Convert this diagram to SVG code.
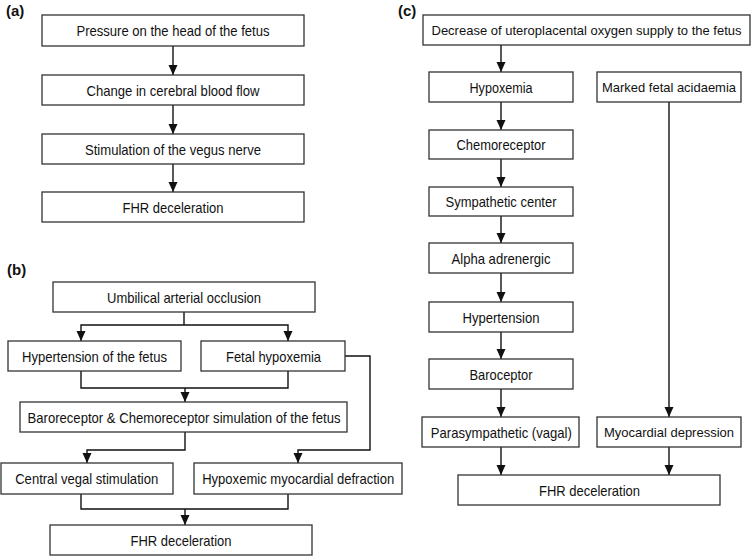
<svg xmlns="http://www.w3.org/2000/svg" width="751" height="556" viewBox="0 0 751 556">
<style>
.box{fill:#fff;stroke:#333;stroke-width:1.3}
.t{font-family:"Liberation Sans",Arial,sans-serif;font-size:15px;fill:#111;text-anchor:middle}
.s{font-size:13.5px}
.xs{font-size:12.8px}
.lbl{font-family:"Liberation Sans",Arial,sans-serif;font-size:15px;font-weight:bold;fill:#111}
.c{fill:none;stroke:#111;stroke-width:1.4}
</style>
<defs>
<marker id="ah" markerUnits="userSpaceOnUse" markerWidth="10" markerHeight="11" refX="10" refY="5" orient="auto">
<path d="M0,0.5 L10,5 L0,9.5 z" fill="#111"/>
</marker>
</defs>
<rect width="751" height="556" fill="#fff"/>
<text class="lbl" x="6" y="16">(a)</text>
<text class="lbl" x="7" y="275">(b)</text>
<text class="lbl" x="398" y="16">(c)</text>

<g id="connectors">
<!-- a -->
<line class="c" x1="173" y1="46" x2="173" y2="75" marker-end="url(#ah)"/>
<line class="c" x1="173" y1="105" x2="173" y2="134" marker-end="url(#ah)"/>
<line class="c" x1="173" y1="164" x2="173" y2="192" marker-end="url(#ah)"/>
<!-- b -->
<polyline class="c" points="184,312 184,325"/>
<polyline class="c" points="184,325 81,325 81,341" marker-end="url(#ah)"/>
<polyline class="c" points="184,325 288,325 288,341" marker-end="url(#ah)"/>
<polyline class="c" points="81,371 81,388 288,388 288,371"/>
<line class="c" x1="185" y1="388" x2="185" y2="402" marker-end="url(#ah)"/>
<polyline class="c" points="185,432 185,450 87,450 87,463" marker-end="url(#ah)"/>
<polyline class="c" points="345,356 370,356 370,450 298,450 298,463" marker-end="url(#ah)"/>
<polyline class="c" points="81,494 81,509 288,509 288,494"/>
<line class="c" x1="185" y1="509" x2="185" y2="525" marker-end="url(#ah)"/>
<!-- c -->
<line class="c" x1="501" y1="45" x2="501" y2="72" marker-end="url(#ah)"/>
<line class="c" x1="501" y1="102" x2="501" y2="130" marker-end="url(#ah)"/>
<line class="c" x1="501" y1="159" x2="501" y2="187" marker-end="url(#ah)"/>
<line class="c" x1="501" y1="216" x2="501" y2="243" marker-end="url(#ah)"/>
<line class="c" x1="501" y1="273" x2="501" y2="302" marker-end="url(#ah)"/>
<line class="c" x1="501" y1="332" x2="501" y2="359" marker-end="url(#ah)"/>
<line class="c" x1="501" y1="389" x2="501" y2="417" marker-end="url(#ah)"/>
<line class="c" x1="669" y1="102" x2="669" y2="417" marker-end="url(#ah)"/>
<line class="c" x1="501" y1="447" x2="501" y2="475" marker-end="url(#ah)"/>
<line class="c" x1="669" y1="447" x2="669" y2="475" marker-end="url(#ah)"/>
</g>

<!-- panel a -->
<g id="a1"><rect class="box" x="42" y="15" width="262" height="31"/><text class="t" x="173" y="36" textLength="193" lengthAdjust="spacingAndGlyphs">Pressure on the head of the fetus</text></g>
<g id="a2"><rect class="box" x="42" y="75" width="262" height="30"/><text class="t" x="173" y="95.5" textLength="173" lengthAdjust="spacingAndGlyphs">Change in cerebral blood flow</text></g>
<g id="a3"><rect class="box" x="42" y="134" width="262" height="30"/><text class="t" x="173" y="154.5" textLength="176" lengthAdjust="spacingAndGlyphs">Stimulation of the vegus nerve</text></g>
<g id="a4"><rect class="box" x="42" y="192" width="262" height="30"/><text class="t" x="173" y="212.5" textLength="101" lengthAdjust="spacingAndGlyphs">FHR deceleration</text></g>

<!-- panel b -->
<g id="b1"><rect class="box" x="53" y="282" width="262" height="30"/><text class="t" x="184" y="302.5" textLength="154" lengthAdjust="spacingAndGlyphs">Umbilical arterial occlusion</text></g>
<g id="b2"><rect class="box" x="8" y="341" width="173" height="30"/><text class="t" x="94.5" y="361.5" textLength="145" lengthAdjust="spacingAndGlyphs">Hypertension of the fetus</text></g>
<g id="b3"><rect class="box" x="201" y="341" width="144" height="30"/><text class="t" x="273.5" y="361.5" textLength="95" lengthAdjust="spacingAndGlyphs">Fetal hypoxemia</text></g>
<g id="b4"><rect class="box" x="20" y="402" width="327" height="30"/><text class="t" x="184" y="422.5" textLength="313" lengthAdjust="spacingAndGlyphs">Baroreceptor &amp; Chemoreceptor simulation of the fetus</text></g>
<g id="b5"><rect class="box" x="1" y="463" width="172" height="31"/><text class="t" x="86.7" y="484" textLength="143" lengthAdjust="spacingAndGlyphs">Central vegal stimulation</text></g>
<g id="b6"><rect class="box" x="194" y="463" width="208" height="31"/><text class="t" x="298.2" y="484" textLength="192" lengthAdjust="spacingAndGlyphs">Hypoxemic myocardial defraction</text></g>
<g id="b7"><rect class="box" x="50" y="525" width="262" height="30"/><text class="t" x="181" y="545.5" textLength="101" lengthAdjust="spacingAndGlyphs">FHR deceleration</text></g>

<!-- panel c -->
<g id="c1"><rect class="box" x="423" y="15" width="327" height="30"/><text class="t xs" x="586.5" y="35" textLength="310" lengthAdjust="spacingAndGlyphs">Decrease of uteroplacental oxygen supply to the fetus</text></g>
<g id="c2"><rect class="box" x="429" y="72" width="144" height="30"/><text class="t" x="501" y="92.5" textLength="63" lengthAdjust="spacingAndGlyphs">Hypoxemia</text></g>
<g id="c3"><rect class="box" x="597" y="72" width="144" height="30"/><text class="t s" x="669" y="92" textLength="134" lengthAdjust="spacingAndGlyphs">Marked fetal acidaemia</text></g>
<g id="c4"><rect class="box" x="429" y="130" width="144" height="29"/><text class="t" x="501" y="150" textLength="89" lengthAdjust="spacingAndGlyphs">Chemoreceptor</text></g>
<g id="c5"><rect class="box" x="429" y="187" width="144" height="29"/><text class="t" x="501" y="207" textLength="111" lengthAdjust="spacingAndGlyphs">Sympathetic center</text></g>
<g id="c6"><rect class="box" x="429" y="243" width="144" height="30"/><text class="t" x="501" y="263.5" textLength="99" lengthAdjust="spacingAndGlyphs">Alpha adrenergic</text></g>
<g id="c7"><rect class="box" x="429" y="302" width="144" height="30"/><text class="t" x="501" y="322.5" textLength="77" lengthAdjust="spacingAndGlyphs">Hypertension</text></g>
<g id="c8"><rect class="box" x="429" y="359" width="144" height="30"/><text class="t" x="501" y="379.5" textLength="63" lengthAdjust="spacingAndGlyphs">Baroceptor</text></g>
<g id="c9"><rect class="box" x="422" y="417" width="157" height="30"/><text class="t" x="501.3" y="437.5" textLength="141" lengthAdjust="spacingAndGlyphs">Parasympathetic (vagal)</text></g>
<g id="c10"><rect class="box" x="597" y="417" width="144" height="30"/><text class="t s" x="669" y="437" textLength="130" lengthAdjust="spacingAndGlyphs">Myocardial depression</text></g>
<g id="c11"><rect class="box" x="458" y="475" width="262" height="30"/><text class="t" x="589.5" y="495.5" textLength="101" lengthAdjust="spacingAndGlyphs">FHR deceleration</text></g>
</svg>
